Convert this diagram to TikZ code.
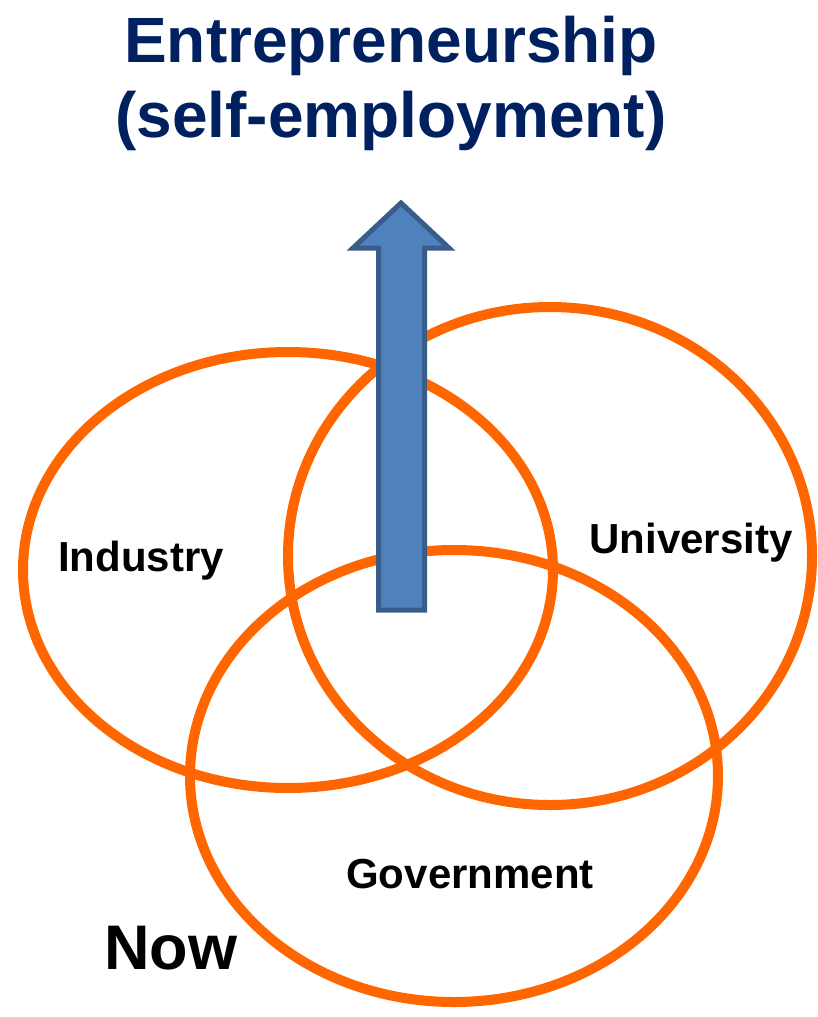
\documentclass[tikz,border=0pt]{standalone}
\usepackage{fontspec}
\setmainfont{Liberation Sans}
\usepackage{tikz}
\definecolor{venn}{HTML}{FF6600}
\definecolor{navy}{HTML}{002060}
\definecolor{arrfill}{HTML}{4F81BD}
\definecolor{arrline}{HTML}{385D8A}
\tikzset{
	ring/.style={draw=venn, line width=10pt},
	lab/.style={anchor=base, font=\fontsize{42}{48}\selectfont\bfseries},
	headline/.style={align=center, text=navy, font=\fontsize{64}{75}\selectfont\bfseries}
}

\begin{document}
\begin{tikzpicture}[x=1pt,y=-1pt]
			\useasboundingbox (0,0) rectangle (817,1017);
			\draw[ring] (288,570) ellipse [x radius=265, y radius=218];
			\draw[ring] (550,556) ellipse [x radius=262, y radius=249];
			\draw[ring] (454,776) ellipse [x radius=264, y radius=226];
			\draw[fill=arrfill, draw=arrline, line width=5pt, line join=miter]
				(378.5,610) -- (378.5,248) -- (353,248) -- (401,203) -- (449,248) -- (424.5,248) -- (424.5,610) -- cycle;
			\node[headline, anchor=base] (title) at (391,137) {Entrepreneurship\\(self-employment)};
			\node[lab] (ind) at (141,571) {Industry};
			\node[lab] (uni) at (691,553) {University};
			\node[lab] (gov) at (470,888) {Government};
			\node[lab, font=\fontsize{63}{70}\selectfont\bfseries] (now) at (171,969) {Now};
		\end{tikzpicture}
\end{document}
